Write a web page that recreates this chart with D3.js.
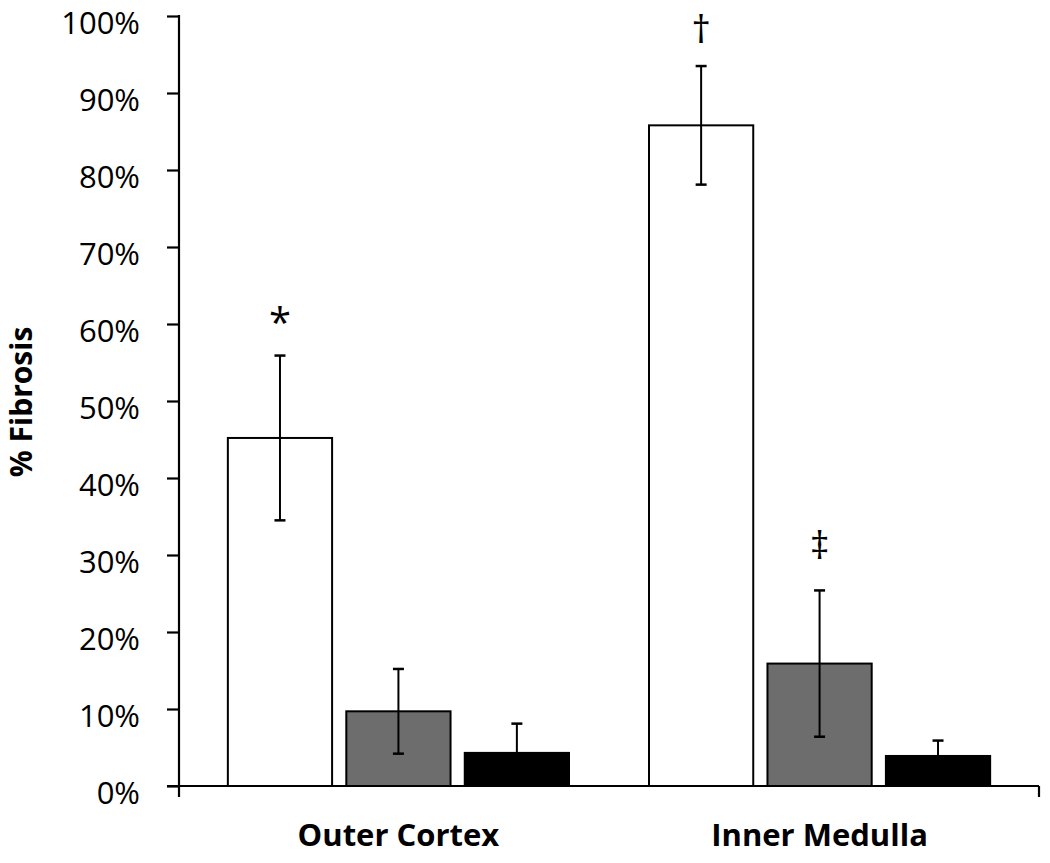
<!DOCTYPE html>
<html>
<head>
<meta charset="utf-8">
<script src="https://cdn.jsdelivr.net/npm/d3@7"></script>
<style>
  body { margin: 0; background: #fff; }
  svg { display: block; font-family: "Open Sans", sans-serif; }
</style>
</head>
<body>
<div id="chart"></div>
<script>
// data (percent fibrosis, mean and error)
const categories = ["Outer Cortex", "Inner Medulla"];
const seriesNames = ["Group 1", "Group 2", "Group 3"];
const seriesFill = ["#ffffff", "#6d6d6d", "#000000"];
const group1Mean = [45.2, 85.8];
const group2Mean = [9.7, 15.9];
const group3Mean = [4.3, 3.9];
const group1Err = [10.7, 7.7];
const group2Err = [5.5, 9.5];
const group3Err = [3.8, 2.0];
const group1Mark = ["*", "\u2020"];
const group2Mark = ["", "\u2021"];
const group3Mark = ["", ""];
const yTicks = [0, 10, 20, 30, 40, 50, 60, 70, 80, 90, 100];

drawChart();

function drawChart() {
    let width = 1050, height = 863;
    let plot = {left: 179, right: 1039, top: 16, bottom: 786};

    let means = [group1Mean, group2Mean, group3Mean];
    let errs = [group1Err, group2Err, group3Err];
    let marks = [group1Mark, group2Mark, group3Mark];

    // flatten into one row per bar
    let data = [];
    for (let c = 0; c < categories.length; c++) {
        for (let s = 0; s < seriesNames.length; s++) {
            data.push({
                cat: categories[c], series: seriesNames[s], fill: seriesFill[s],
                mean: means[s][c], err: errs[s][c], mark: marks[s][c]
            });
        }
    }

    let svg = d3.select("#chart").append("svg")
        .attr("width", width)
        .attr("height", height);

    let y = d3.scaleLinear().domain([0, 100]).range([plot.bottom, plot.top]);
    let x0 = d3.scaleBand().domain(categories)
        .range([plot.left, plot.right])
        .paddingInner(0.19)
        .paddingOuter(0.116);
    let x1 = d3.scaleBand().domain(seriesNames)
        .range([0, x0.bandwidth()])
        .paddingInner(0.12)
        .paddingOuter(0);

    // y axis
    let yAxis = d3.axisLeft(y)
        .tickValues(yTicks)
        .tickFormat(d => d + "%")
        .tickSize(12)
        .tickSizeOuter(0)
        .tickPadding(27);

    let gy = svg.append("g")
        .attr("transform", "translate(" + plot.left + ",0)")
        .call(yAxis);
    gy.select(".domain").remove();
    gy.selectAll(".tick line").attr("stroke", "#000").attr("stroke-width", 2.2);
    gy.selectAll(".tick text")
        .attr("fill", "#000")
        .attr("dy", "0.55em")
        .style("font-size", "31px")
        .style("font-family", "'Open Sans', sans-serif");

    // axis lines
    svg.append("line")
        .attr("x1", plot.left).attr("x2", plot.left)
        .attr("y1", plot.top - 1).attr("y2", plot.bottom + 11)
        .attr("stroke", "#000").attr("stroke-width", 2.2);

    // bars
    svg.append("g").selectAll("rect")
        .data(data)
        .enter().append("rect")
        .attr("x", d => x0(d.cat) + x1(d.series))
        .attr("y", d => y(d.mean))
        .attr("width", x1.bandwidth())
        .attr("height", d => y(0) - y(d.mean))
        .attr("fill", d => d.fill)
        .attr("stroke", "#000")
        .attr("stroke-width", 2);

    // x axis on top of bar bottoms
    svg.append("line")
        .attr("x1", plot.left - 12).attr("x2", plot.right)
        .attr("y1", y(0)).attr("y2", y(0))
        .attr("stroke", "#000").attr("stroke-width", 2.2);
    svg.append("line")
        .attr("x1", plot.right).attr("x2", plot.right)
        .attr("y1", y(0)).attr("y2", y(0) + 11)
        .attr("stroke", "#000").attr("stroke-width", 2.2);

    // error bars
    let eb = svg.append("g").selectAll("g")
        .data(data)
        .enter().append("g")
        .attr("transform", d => "translate(" + (x0(d.cat) + x1(d.series) + x1.bandwidth() / 2) + ",0)");
    eb.append("line")
        .attr("y1", d => y(d.mean - d.err))
        .attr("y2", d => y(d.mean + d.err))
        .attr("stroke", "#000").attr("stroke-width", 2);
    eb.append("line")
        .attr("x1", -5.5).attr("x2", 5.5)
        .attr("y1", d => y(d.mean + d.err)).attr("y2", d => y(d.mean + d.err))
        .attr("stroke", "#000").attr("stroke-width", 2.5);
    eb.append("line")
        .attr("x1", -5.5).attr("x2", 5.5)
        .attr("y1", d => y(d.mean - d.err)).attr("y2", d => y(d.mean - d.err))
        .attr("stroke", "#000").attr("stroke-width", 2.5);

    // significance marks, lifted a little above the error cap
    let markLift = {"*": 34, "\u2020": 38, "\u2021": 46};
    eb.filter(d => d.mark != "")
        .append("text")
        .attr("text-anchor", "middle")
        .attr("y", d => y(d.mean + d.err) - markLift[d.mark])
        .attr("dominant-baseline", "central")
        .style("font-size", d => d.mark == "*" ? "40px" : "38px")
        .attr("fill", "#000")
        .text(d => d.mark);

    // category labels
    svg.append("g").selectAll("text")
        .data(categories)
        .enter().append("text")
        .attr("x", d => x0(d) + x0.bandwidth() / 2)
        .attr("y", 846)
        .attr("text-anchor", "middle")
        .style("font-size", "31px")
        .style("font-weight", "bold")
        .attr("fill", "#000")
        .text(d => d);

    // y axis title
    svg.append("text")
        .attr("transform", "translate(32," + 402 + ") rotate(-90)")
        .attr("text-anchor", "middle")
        .style("font-size", "30px")
        .style("font-weight", "bold")
        .attr("fill", "#000")
        .text("% Fibrosis");
}
</script>
</body>
</html>
